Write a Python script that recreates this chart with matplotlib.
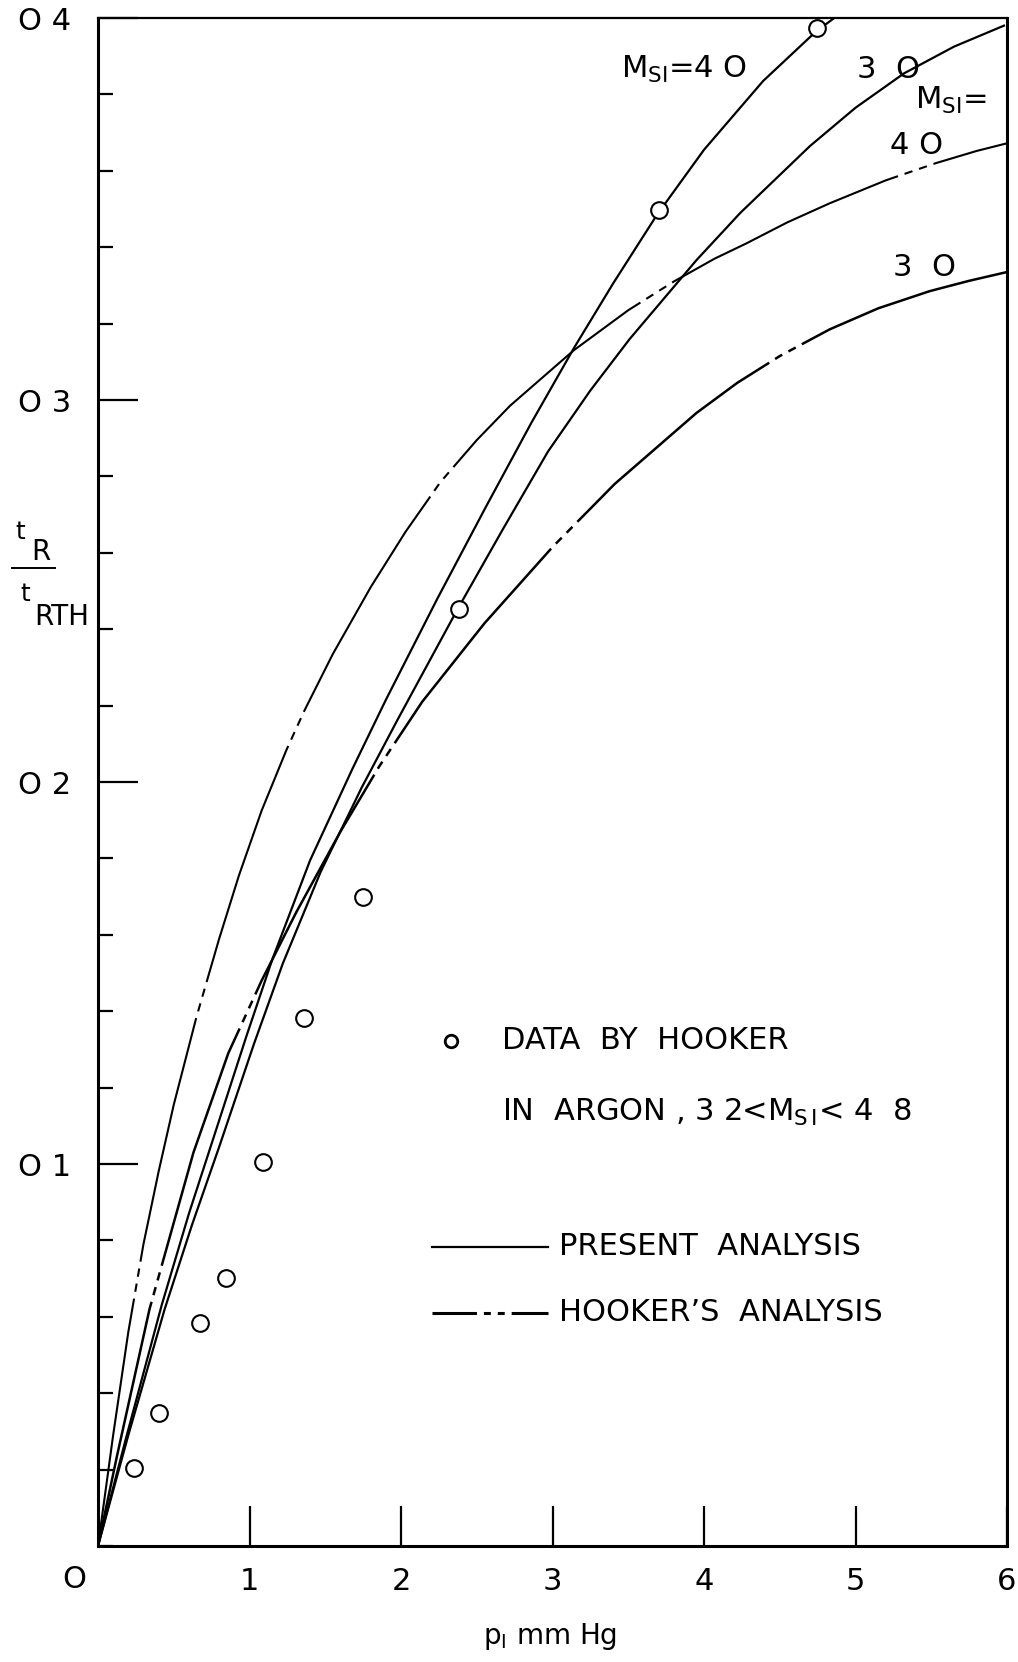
import matplotlib
matplotlib.use("Agg")
import matplotlib.pyplot as plt
from matplotlib.lines import Line2D
from matplotlib.ticker import MultipleLocator, FixedLocator

W, H = 1018, 1662

plt.rcParams.update({
    "font.family": "DejaVu Sans",
    "mathtext.fontset": "dejavusans",
    "lines.scale_dashes": False,
})

# mesures de Hooker (argon)
data_p = [0.235, 0.403, 0.676, 0.844, 1.089, 1.362, 1.747, 2.384, 3.706, 4.749]
data_t = [0.0203, 0.0347, 0.0583, 0.0702, 0.1005, 0.1383, 0.1699, 0.2454, 0.3498, 0.3973]

# analyse présente, M_SI = 4.0
pres4_p = [0, 0.18, 0.42, 0.60, 0.78, 0.98, 1.15, 1.40, 1.68, 1.90, 2.24, 2.56, 2.86,
           3.14, 3.40, 3.69, 4.00, 4.39, 4.74, 4.86]
pres4_t = [0, 0.0275, 0.063, 0.087, 0.109, 0.1335, 0.1535, 0.1795, 0.2035, 0.2215,
           0.248, 0.272, 0.294, 0.3135, 0.3305, 0.3485, 0.3655, 0.3835, 0.3965, 0.400]

# analyse présente, M_SI = 3.0
pres3_p = [0, 0.20, 0.44, 0.62, 0.80, 1.03, 1.22, 1.47, 1.74, 1.98, 2.37, 2.67, 2.97,
           3.25, 3.51, 3.95, 4.24, 4.70, 5.00, 5.32, 5.65, 5.98]
pres3_t = [0, 0.029, 0.062, 0.084, 0.1045, 0.1315, 0.1525, 0.1765, 0.1985, 0.2165,
           0.245, 0.266, 0.2865, 0.3025, 0.316, 0.3366, 0.349, 0.3665, 0.3765, 0.3855,
           0.3925, 0.398]

# analyse de Hooker, M_SI = 4.0
hook4_p = [0, 0.10, 0.20, 0.30, 0.40, 0.50, 0.65, 0.80, 0.93, 1.08, 1.245, 1.36, 1.55,
           1.80, 2.03, 2.26, 2.50, 2.72, 3.14, 3.50, 3.80, 4.07, 4.28, 4.55, 4.83,
           5.20, 5.53, 5.80, 6.00]
hook4_t = [0, 0.029, 0.056, 0.079, 0.098, 0.1155, 0.1385, 0.159, 0.1755, 0.1925,
           0.2085, 0.2185, 0.2335, 0.251, 0.2655, 0.2785, 0.2895, 0.2985, 0.313,
           0.3235, 0.331, 0.337, 0.341, 0.3465, 0.3515, 0.3575, 0.362, 0.3652, 0.3672]

# analyse de Hooker, M_SI = 3.0
hook3_p = [0, 0.125, 0.34, 0.63, 0.86, 1.08, 1.31, 1.60, 1.855, 2.14, 2.55, 3.00, 3.41,
           3.95, 4.22, 4.50, 4.83, 5.15, 5.49, 5.75, 6.00]
hook3_t = [0, 0.0235, 0.062, 0.103, 0.129, 0.148, 0.166, 0.187, 0.204, 0.221, 0.2415,
           0.2615, 0.278, 0.2966, 0.3045, 0.3115, 0.3185, 0.324, 0.3285, 0.3312, 0.3335]

y_major = [0.1, 0.2, 0.3, 0.4]
y_major_labels = ["O 1", "O 2", "O 3", "O 4"]
x_major = [1, 2, 3, 4, 5, 6]
x_major_labels = ["1", "2", "3", "4", "5", "6"]

HOOKER_DASH = (0, (180, 5, 6, 5, 6, 5))
FS = 22


def fx(x):
    return x / W


def fy(y):
    return 1 - y / H


fig = plt.figure(figsize=(W / 100, H / 100), dpi=100)
ax = fig.add_axes([fx(98), fy(1546), (1007 - 98) / W, (1546 - 18) / H])
ax.set_xlim(0, 6)
ax.set_ylim(0, 0.4)

for side, lw in [("left", 2.2), ("bottom", 2.2), ("right", 2.2), ("top", 1.6)]:
    ax.spines[side].set_linewidth(lw)

ax.yaxis.set_major_locator(FixedLocator(y_major))
ax.set_yticklabels(y_major_labels)
ax.yaxis.set_minor_locator(MultipleLocator(0.02))
ax.xaxis.set_major_locator(FixedLocator(x_major))
ax.set_xticklabels(x_major_labels)
ax.tick_params(axis="y", which="major", direction="in", length=29, width=1.6,
               pad=19, labelsize=FS)
ax.tick_params(axis="y", which="minor", direction="in", length=11, width=1.6)
ax.tick_params(axis="x", which="major", direction="in", length=29, width=1.6,
               pad=15, labelsize=FS)

# courbes
ax.plot(pres4_p, pres4_t, color="black", lw=1.6)
ax.plot(pres3_p, pres3_t, color="black", lw=1.6)
ax.plot(hook4_p, hook4_t, color="black", lw=1.5, linestyle=HOOKER_DASH)
ax.plot(hook3_p, hook3_t, color="black", lw=1.8, linestyle=HOOKER_DASH)
ax.plot(data_p, data_t, linestyle="none", marker="o", markersize=12,
        markerfacecolor="white", markeredgecolor="black", markeredgewidth=1.5,
        zorder=4, clip_on=False)

# étiquettes des courbes
ax.text(3.45, 0.3866, r"$\mathrm{M_{SI}}$=4 O", fontsize=FS, ha="left", va="center")
ax.text(5.01, 0.3866, "3  O", fontsize=FS, ha="left", va="center")
ax.text(5.39, 0.3785, r"$\mathrm{M_{SI}}$=", fontsize=FS, ha="left", va="center")
ax.text(5.23, 0.3667, "4 O", fontsize=FS, ha="left", va="center")
ax.text(5.25, 0.3346, "3  O", fontsize=FS, ha="left", va="center")

# légende
ax.plot([2.33], [0.1322], marker="o", markersize=9, markerfacecolor="white",
        markeredgecolor="black", markeredgewidth=2.0, linestyle="none")
ax.text(2.667, 0.1322, "DATA  BY  HOOKER", fontsize=FS, ha="left", va="center")
ax.text(2.667, 0.1134, r"IN  ARGON , 3 2<M$_{\mathrm{S\,I}}$< 4  8", fontsize=FS,
        ha="left", va="center")
ax.add_line(Line2D([2.205, 2.97], [0.0783, 0.0783], color="black", lw=1.6))
ax.text(3.04, 0.0783, "PRESENT  ANALYSIS", fontsize=FS, ha="left", va="center")
ax.add_line(Line2D([2.205, 2.97], [0.061, 0.061], color="black", lw=2.2,
                   linestyle=(0, (32, 5, 5, 5, 5, 5))))
ax.text(3.04, 0.061, "HOOKER\u2019S  ANALYSIS", fontsize=FS, ha="left", va="center")

# origine et titres des axes
fig.text(fx(74), fy(1580), "O", fontsize=FS, ha="center", va="center")
fig.text(fx(550), fy(1636), r"p$_{\mathrm{I}}$ mm Hg", fontsize=20, ha="center",
         va="center")
fig.text(fx(20), fy(532), "t", fontsize=18, ha="center", va="center")
fig.text(fx(41), fy(552), "R", fontsize=20, ha="center", va="center")
fig.add_artist(Line2D([fx(12), fx(55)], [fy(568), fy(568)], color="black", lw=1.4))
fig.text(fx(25), fy(594), "t", fontsize=18, ha="center", va="center")
fig.text(fx(62), fy(617), "RTH", fontsize=20, ha="center", va="center")

fig.savefig("out.png", dpi=100)
